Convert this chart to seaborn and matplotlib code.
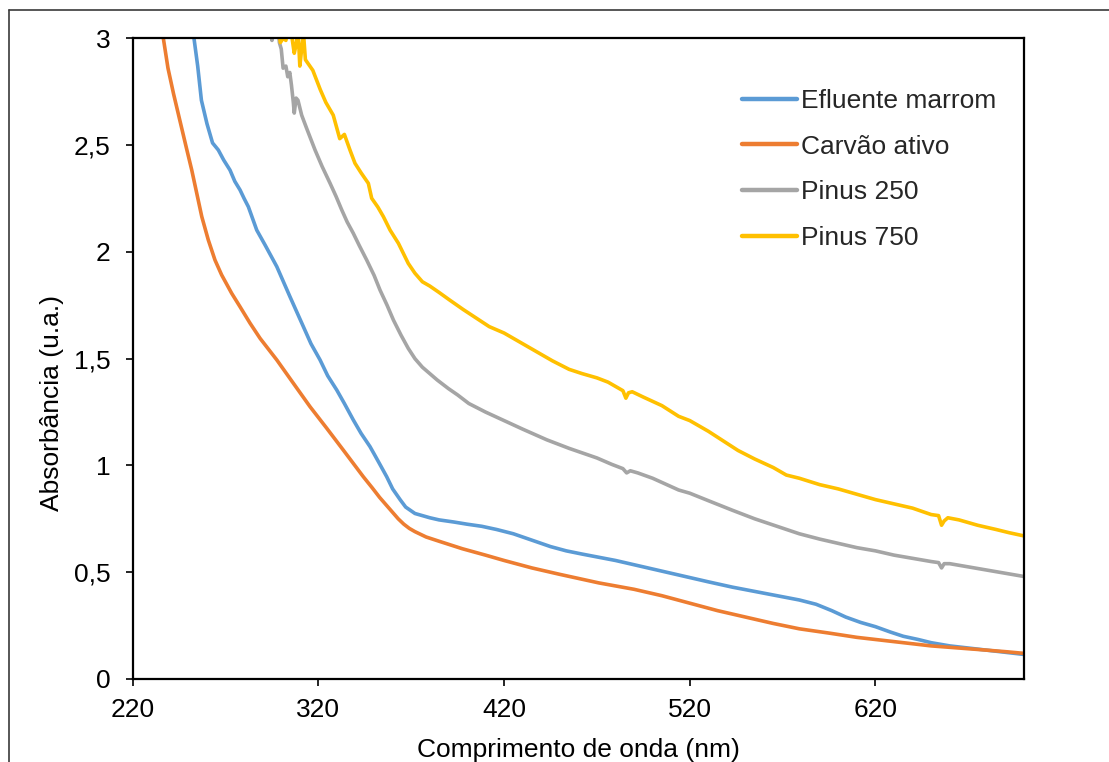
import matplotlib
matplotlib.use("Agg")
import matplotlib.pyplot as plt
from matplotlib.lines import Line2D
import numpy as np
import pandas as pd
import seaborn as sns

# UV-Vis absorbance spectra (wavelength in nm, absorbance in a.u.)
efluente_x = [252, 253, 255, 257, 260, 263, 266.1, 269, 272.4, 275, 277.8, 280, 282.3, 286.8, 291.3,
              297.6, 304.7, 311.9, 316, 320.9, 325, 329.9, 334, 338.8, 343, 347.8, 350, 353, 356.8, 360,
              364, 367, 372, 376, 380, 385, 393, 400, 408, 416, 425, 435, 445, 453.5, 462,
              471, 480, 490, 500, 510, 520, 530, 543, 555, 567, 579, 588, 596.5, 604, 612,
              620, 628, 635, 643, 650, 660, 670, 680, 690, 700]
efluente_y = [3.08, 3.0, 2.87, 2.71, 2.60, 2.51, 2.477, 2.43, 2.383, 2.33, 2.29, 2.25, 2.211, 2.102, 2.032,
              1.931, 1.79, 1.65, 1.57, 1.494, 1.42, 1.353, 1.29, 1.213, 1.15, 1.088, 1.054, 1.007, 0.947, 0.89,
              0.84, 0.805, 0.775, 0.765, 0.755, 0.745, 0.735, 0.725, 0.715, 0.70, 0.68, 0.65, 0.62, 0.60, 0.585,
              0.57, 0.555, 0.535, 0.515, 0.495, 0.475, 0.455, 0.43, 0.41, 0.39, 0.37, 0.35, 0.32, 0.29, 0.265,
              0.245, 0.22, 0.20, 0.185, 0.17, 0.155, 0.145, 0.135, 0.125, 0.115]

carvao_x = [235.5, 236.5, 239, 242, 245, 249.1, 251.8, 254.5, 257.2, 260.7, 264.3, 267.9, 273.3, 277.8, 283.2,
            288.6, 297.6, 306.5, 315.5, 324.5, 333.4, 344.2, 349, 353, 357, 360, 363, 366, 369, 372,
            378, 385, 397.5, 410, 420, 435, 450, 471, 490, 505, 520, 535, 550, 565, 579,
            595, 610, 620, 635, 650, 665, 680, 690, 700]
carvao_y = [3.05, 3.0, 2.86, 2.74, 2.63, 2.48, 2.383, 2.274, 2.165, 2.056, 1.962, 1.892, 1.806, 1.743, 1.666,
            1.595, 1.494, 1.385, 1.275, 1.174, 1.072, 0.947, 0.895, 0.85, 0.81, 0.78, 0.75, 0.725, 0.705, 0.69,
            0.665, 0.645, 0.61, 0.58, 0.555, 0.52, 0.49, 0.45, 0.42, 0.39, 0.355, 0.32, 0.29, 0.26, 0.235,
            0.215, 0.195, 0.185, 0.17, 0.155, 0.145, 0.135, 0.128, 0.12]

pinus250_x = [294, 295, 296, 298.5, 299, 300, 301, 302.5, 303.5, 304.6, 305.5, 306.5, 307, 308, 309,
              311, 313.6, 318.2, 322, 326.3, 329.5, 332.6, 335.5, 338.8, 342, 346, 350, 353.2, 357, 360.4,
              364.5, 368.4, 372, 376, 380, 384, 390, 395, 401, 410, 420, 430, 443, 455, 465,
              470, 478, 484, 486, 488, 492, 500, 514, 520, 530, 543, 555, 567, 579, 590,
              600, 610, 620, 630, 640, 650, 654, 655.6, 657, 660, 670, 680, 690, 700]
pinus250_y = [3.05, 2.99, 3.06, 3.04, 2.98, 2.95, 2.86, 2.87, 2.82, 2.84, 2.78, 2.70, 2.65, 2.72, 2.71,
              2.64, 2.58, 2.477, 2.40, 2.321, 2.26, 2.196, 2.14, 2.087, 2.03, 1.962, 1.89, 1.821, 1.75, 1.681,
              1.61, 1.548, 1.50, 1.46, 1.43, 1.40, 1.36, 1.33, 1.29, 1.25, 1.21, 1.17, 1.12, 1.08, 1.05,
              1.035, 1.005, 0.985, 0.965, 0.975, 0.965, 0.94, 0.885, 0.87, 0.835, 0.79, 0.75, 0.715, 0.68, 0.655,
              0.635, 0.615, 0.60, 0.58, 0.565, 0.55, 0.545, 0.52, 0.54, 0.54, 0.525, 0.51, 0.495, 0.48]

pinus750_x = [298.5, 299.5, 301, 302.5, 303.5, 305, 306, 307, 308, 309, 310, 311, 312, 313, 317,
              321, 324, 328, 331.5, 334, 337, 339.7, 343, 346.9, 348.7, 352, 355, 358.6, 363.1, 368.4,
              372, 376, 380, 385, 390.6, 398, 405, 412, 420, 430, 438, 446, 455, 462, 470,
              476, 482, 484, 485.6, 487, 489, 495, 505, 514, 520, 530, 546, 555, 565, 572,
              579, 590, 600, 610, 620, 630, 640, 650, 654, 655.6, 657, 659, 665, 675, 685,
              692, 700]
pinus750_y = [3.05, 2.98, 3.0, 2.99, 3.05, 3.1, 2.99, 2.93, 2.97, 3.05, 2.87, 2.95, 3.02, 2.90, 2.85,
              2.76, 2.70, 2.64, 2.53, 2.55, 2.477, 2.415, 2.37, 2.321, 2.251, 2.21, 2.165, 2.102, 2.04, 1.946,
              1.90, 1.86, 1.84, 1.81, 1.775, 1.73, 1.69, 1.65, 1.62, 1.57, 1.53, 1.49, 1.45, 1.43, 1.41,
              1.39, 1.36, 1.35, 1.315, 1.34, 1.345, 1.32, 1.28, 1.23, 1.21, 1.16, 1.07, 1.03, 0.99, 0.955,
              0.94, 0.91, 0.89, 0.865, 0.84, 0.82, 0.80, 0.77, 0.765, 0.72, 0.74, 0.755, 0.745, 0.72, 0.70,
              0.685, 0.67]

series_names = ["Efluente marrom", "Carvão ativo", "Pinus 250", "Pinus 750"]
series_colors = ["#5B9BD5", "#ED7D31", "#A5A5A5", "#FFC000"]
x_ticks = [220, 320, 420, 520, 620]
y_ticks = [0, 0.5, 1, 1.5, 2, 2.5, 3]
y_tick_labels = ["0", "0,5", "1", "1,5", "2", "2,5", "3"]

frames = []
for name, xs, ys in zip(series_names,
                        [efluente_x, carvao_x, pinus250_x, pinus750_x],
                        [efluente_y, carvao_y, pinus250_y, pinus750_y]):
    frames.append(pd.DataFrame({"wl": xs, "abs": ys, "amostra": name}))
df = pd.concat(frames, ignore_index=True)

sns.set_style("white")
plt.rcParams["font.family"] = ["Liberation Sans", "DejaVu Sans"]

W, H = 1109, 762
fig = plt.figure(figsize=(W / 100, H / 100), dpi=100)
ax = fig.add_axes([132.7 / W, 1 - 679 / H, (1024 - 132.7) / W, (679 - 38.3) / H])

sns.lineplot(data=df, x="wl", y="abs", hue="amostra", hue_order=series_names,
             palette=dict(zip(series_names, series_colors)), estimator=None,
             linewidth=2.6, ax=ax, legend=False)
for ln in ax.get_lines():
    ln.set_solid_joinstyle("round")
    ln.set_solid_capstyle("round")

ax.set_xlim(220, 700)
ax.set_ylim(0, 3)
ax.set_xticks(x_ticks)
ax.set_yticks(y_ticks)
ax.set_yticklabels(y_tick_labels)
ax.tick_params(axis="both", which="major", direction="out", length=5, width=1.2,
               color="black", labelsize=19, labelcolor="black", left=True, bottom=True)
ax.tick_params(axis="y", pad=11)
ax.tick_params(axis="x", pad=9)
for sp in ax.spines.values():
    sp.set_color("black")
    sp.set_linewidth(1.6)
    sp.set_visible(True)
ax.grid(False)

ax.set_xlabel("Comprimento de onda (nm)", fontsize=19, color="black")
ax.set_ylabel("Absorbância (u.a.)", fontsize=19, color="black")
ax.xaxis.label.set_va("center")
ax.yaxis.label.set_va("center")
ax.xaxis.set_label_coords(0.5, (679 - 750) / (679 - 38.3))
ax.yaxis.set_label_coords((52 - 132.7) / (1024 - 132.7), (679 - 403) / (679 - 38.3))

handles = [Line2D([0], [0], color=c, lw=3.2) for c in series_colors]
ax.legend(handles, series_names, loc="upper left",
          bbox_to_anchor=(742 / W, 1 - 89 / H), bbox_transform=fig.transFigure,
          frameon=False, fontsize=19, borderpad=0, borderaxespad=0,
          handlelength=2.08, handletextpad=0.15, labelspacing=0.82)

# outer chart frame
fig.add_artist(Line2D([9 / W, 1.0], [1 - 10 / H, 1 - 10 / H], color="#3a3a3a", lw=1.2,
                      transform=fig.transFigure))
fig.add_artist(Line2D([9 / W, 9 / W], [0.0, 1 - 10 / H], color="#3a3a3a", lw=1.2,
                      transform=fig.transFigure))

fig.savefig("out.png", dpi=100, facecolor="white")
